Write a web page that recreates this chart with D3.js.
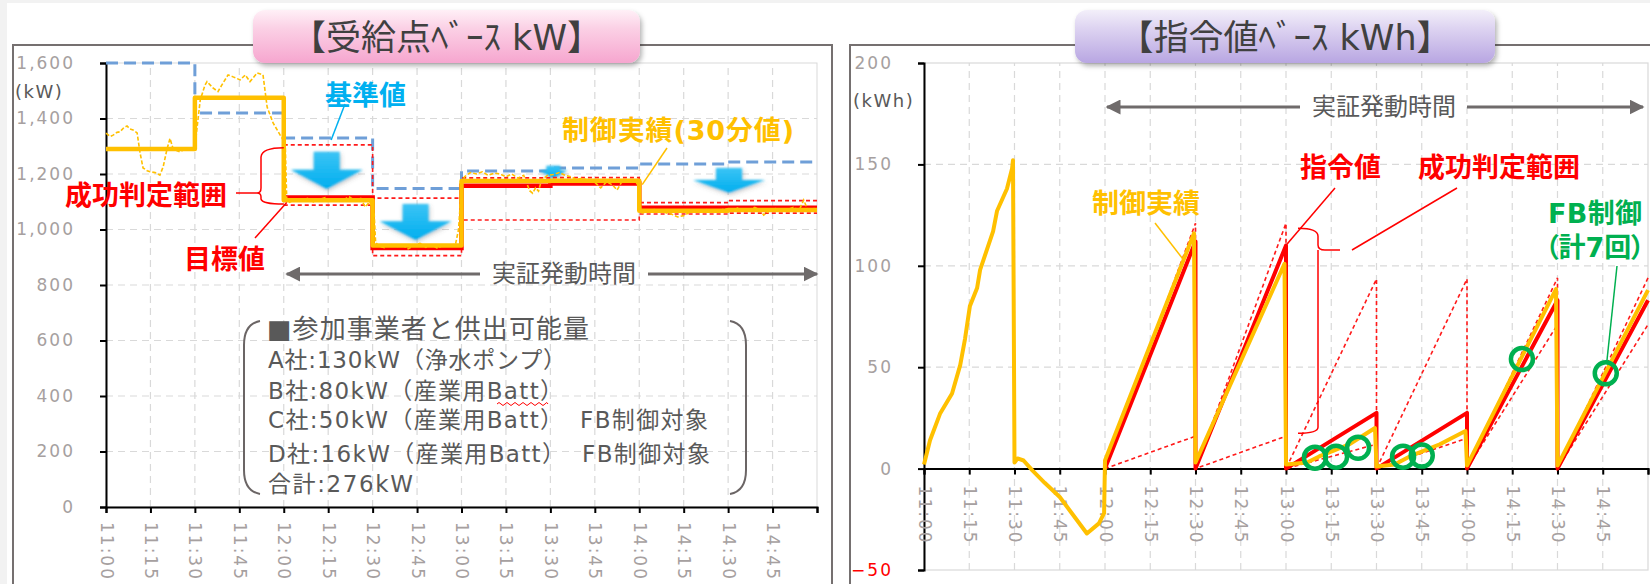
<!DOCTYPE html>
<html><head><meta charset="utf-8">
<script src="https://cdn.jsdelivr.net/npm/d3@7"></script>
<style>
html,body{margin:0;padding:0;background:#f2f2f2;}
svg{display:block;}
text{font-family:"DejaVu Sans","Noto Sans CJK JP",sans-serif;}
.tk text{font-family:"DejaVu Sans",sans-serif;font-size:17px;letter-spacing:2px;fill:#a6a0a0;}
</style></head><body>
<svg id="c" width="1650" height="584"></svg>
<script>
// ---------- data ----------
// time axis: minutes after 11:00
const timeTicks  = [0,15,30,45,60,75,90,105,120,135,150,165,180,195,210,225,240];
const timeLabels = ["11:00","11:15","11:30","11:45","12:00","12:15","12:30","12:45",
                    "13:00","13:15","13:30","13:45","14:00","14:15","14:30","14:45",""];
const kwTicks  = [0,200,400,600,800,1000,1200,1400,1600];
const kwhTicks = [-50,0,50,100,150,200];

// 30-minute blocks (start minute)
const blockStarts = [0,30,60,90,120,150,180,210];
const baseKW      = [1600,1420,1330,1148,1211,1222,1236,1243];   // 基準値
const actualKW30  = [1290,1475,1105,942,1175,1176,1068,1070];     // 制御実績(30分値)
const targetKW    = [null,null,1115,933,1158,1166,1078,1078];     // 目標値
const rangeHighKW = [null,null,1305,1113,1186,1187,1097,1104];    // 成功判定範囲 upper
const rangeLowKW  = [null,null,1088,906,1034,1034,1056,1059];     // 成功判定範囲 lower

// 1-minute actual load [minute, kW]
const actualKW1min = [
 [0,1347],[1.4,1335],[2.4,1340],[3.7,1350],[4.7,1352],[6.1,1368],[7.1,1373],[8.1,1362],[9.1,1359],[10.5,1348],
 [11.5,1276],[12.5,1222],[13.9,1212],[14.9,1208],[16.6,1205],[18.2,1196],[19.3,1226],[20.6,1290],[21.6,1328],
 [22.6,1293],[24,1284],[25,1280],[26.7,1290],[28.4,1287],[30,1298],[31.8,1466],[33.4,1520],[34.1,1533],[36.1,1510],
 [37.8,1497],[39.5,1528],[41.2,1557],[42.9,1550],[45.3,1539],[47,1557],[48.6,1533],[51,1564],[53,1557],[54.4,1441],
 [56.4,1384],[58.8,1340],[60.5,1311],[61,1110],
 [62,1098],[64,1110],[66,1104],[68,1112],[70,1100],[72,1108],[74,1115],[76,1102],[78,1110],[80,1106],[82,1118],
 [84,1105],[86,1112],[87.5,1081],[89,1100],[90.5,1060],[91,955],
 [92,940],[94,935],[96,948],[98,938],[100,945],[102,930],[104,942],[106,950],[108,936],[110,944],[112,932],
 [114,946],[116,940],[118,948],[119,1000],[120,1160],
 [121,1190],[123,1205],[125,1200],[127,1208],[129,1195],[131,1203],[133,1200],[135,1190],[137,1200],[139,1185],
 [141,1195],[143,1140],[144,1131],[145,1150],[146,1138],[147,1178],[149,1195],
 [151,1198],[153,1205],[155,1195],[157,1190],[159,1180],[161,1185],[163,1175],[165,1170],[167,1150],[169,1172],
 [171,1160],[172.5,1142],[174,1170],[176,1176],[178,1172],[180,1160],[180.5,1070],
 [181,1060],[183,1065],[185,1072],[187,1066],[189,1060],[191,1055],[193,1045],[195,1050],[197,1062],[199,1070],
 [201,1066],[203,1072],[205,1060],[207,1068],[209,1075],
 [211,1070],[213,1078],[215,1066],[217,1072],[219,1080],[221,1070],[222,1052],[224,1068],[226,1075],[228,1070],
 [230,1072],[232,1080],[234,1070],[235.5,1106],[237,1068],[239,1075],[240,1072]
];

// reduction arrows [centre minute, top kW, tip kW, large?]
const reductionArrows = [[74.5,1280,1146,1],[104.5,1092,962,1],[151,1230,1183,0],[210.3,1222,1132,1]];

// kWh view: blocks from 12:00
const kwhBlockStarts = [60,90,120,150,180,210];
const commandKWh     = [112,110,27.5,27.5,83,83];   // 指令値 at block end
const rangeHighKWh   = [121,121,93.5,93.5,94,94];
const rangeLowKWh    = [16,16,12,15,71,71];
// 制御実績 cumulative kWh [minute, kWh]
const actualKWh = [
 [0,2],[2,14],[5.3,27],[9.3,37],[12,51],[13.6,64],[15.2,80],[17.6,89],[18.6,98],[22.9,117],[24.2,127],
 [27.5,138],[29.2,148],[29.5,152],[30,3],[31,5],[33,4],[36,-1],[40,-7],[45,-14],[49,-22],[54,-32],[58,-27],
 [59.7,-22],[60,4],[89.5,116],[90,3],[119.5,101],[120,2],[127,3],[131,6],[136,9],[141,12],[149.5,20],
 [150,1],[156,2],[161,6],[166,9],[171,12],[179.5,18.5],[180,1.5],[209.5,88.5],[210,1.5],[240,88]
];
// FB control events [minute, kWh]
const fbMinutes = [129.6,136.6,143.9,158.8,165,198.2,226];
const fbKWh     = [5.4,5.9,10.3,5.9,6.4,54,47];

// ---------- setup ----------
const svg = d3.select("#c");
svg.append("rect").attr("x",7).attr("y",3).attr("width",1643).attr("height",581).attr("fill","#fff");
const defs = svg.append("defs");
function grad(id, stops){
  const g = defs.append("linearGradient").attr("id",id).attr("x1",0).attr("y1",0).attr("x2",0).attr("y2",1);
  stops.forEach(s=>g.append("stop").attr("offset",s[0]).attr("stop-color",s[1]));
}
grad("gPink",[[0,"#fff0f7"],[0.35,"#fbd0e5"],[1,"#f6a6cf"]]);
grad("gPurple",[[0,"#f3effa"],[0.35,"#ddd3f1"],[1,"#b8a6e2"]]);
grad("gArrow",[[0,"#3cc4f5"],[1,"#00aeef"]]);
const sh = defs.append("filter").attr("id","shadow").attr("x","-20%").attr("y","-20%").attr("width","140%").attr("height","160%");
sh.append("feDropShadow").attr("dx",2).attr("dy",3).attr("stdDeviation",2.5).attr("flood-color","#000").attr("flood-opacity",0.3);
const soft = defs.append("filter").attr("id","soft").attr("x","-20%").attr("y","-20%").attr("width","140%").attr("height","160%");
soft.append("feGaussianBlur").attr("in","SourceGraphic").attr("stdDeviation",0.8).attr("result","b");
soft.append("feDropShadow").attr("in","b").attr("dx",1).attr("dy",2).attr("stdDeviation",2).attr("flood-color","#555").attr("flood-opacity",0.35);
const mk = defs.append("marker").attr("id","ah").attr("viewBox","0 0 10 10").attr("refX",9).attr("refY",5)
  .attr("markerWidth",5).attr("markerHeight",5).attr("orient","auto-start-reverse").attr("markerUnits","strokeWidth");
mk.append("path").attr("d","M0,0 L10,5 L0,10 Z").attr("fill","#6f6b6b");

// panel frames
svg.append("rect").attr("x",13).attr("y",45).attr("width",819).attr("height",600).attr("fill","none").attr("stroke","#757070").attr("stroke-width",2);
svg.append("rect").attr("x",850).attr("y",45).attr("width",830).attr("height",600).attr("fill","none").attr("stroke","#757070").attr("stroke-width",2);

// scales
const xL = d3.scaleLinear().domain([0,240]).range([106,817]);
const yL = d3.scaleLinear().domain([0,1600]).range([507,63]);
const xR = d3.scaleLinear().domain([0,240]).range([924,1648]);
const yR = d3.scaleLinear().domain([-50,200]).range([570,63]);

function stepPoints(starts, vals){
  const pts=[];
  starts.forEach((s,i)=>{ if(vals[i]!=null){ pts.push([s,vals[i]]); pts.push([s+30,vals[i]]); } });
  return pts;
}
function sawPoints(starts, vals){
  const pts=[];
  starts.forEach((s,i)=>{ pts.push([s,0]); pts.push([s+30,vals[i]]); });
  return pts;
}
const line = (x,y)=>d3.line().x(d=>x(d[0])).y(d=>y(d[1]));
function lbl(g,x,y,t,c,size,wt,anchor,len){
  const el = g.append("text").attr("x",x).attr("y",y).attr("dominant-baseline","central")
    .attr("text-anchor",anchor||"start").style("font-size",size+"px").style("font-weight",wt||700).attr("fill",c).text(t);
  if(len) el.attr("textLength",len).attr("lengthAdjust","spacing");
  return el;
}

// ---------- left panel: kW ----------
const L = svg.append("g");
L.append("g").selectAll("line").data(kwTicks.filter(d=>d>0&&d<1600)).join("line")
  .attr("x1",xL(0)).attr("x2",xL(240)).attr("y1",d=>yL(d)).attr("y2",d=>yL(d))
  .attr("stroke","#d9d9d9").attr("stroke-width",1.2).attr("stroke-dasharray","7,5");
L.append("g").selectAll("line").data(timeTicks.filter(d=>d>0&&d<240)).join("line")
  .attr("x1",d=>xL(d)).attr("x2",d=>xL(d)).attr("y1",yL(0)).attr("y2",yL(1600))
  .attr("stroke","#d9d9d9").attr("stroke-width",1.2).attr("stroke-dasharray","7,5");
L.append("rect").attr("x",xL(0)).attr("y",yL(1600)).attr("width",xL(240)-xL(0)).attr("height",yL(0)-yL(1600))
  .attr("fill","none").attr("stroke","#d9d9d9").attr("stroke-width",1);
const axL = L.append("g").attr("class","tk").attr("transform",`translate(${xL(0)},0)`)
  .call(d3.axisLeft(yL).tickValues(kwTicks).tickFormat(d3.format(",")).tickSize(6).tickPadding(25));
const axB = L.append("g").attr("class","tk").attr("transform",`translate(0,${yL(0)})`)
  .call(d3.axisBottom(xL).tickValues(timeTicks).tickFormat((d,i)=>timeLabels[i]).tickSize(6));
axB.selectAll("text").attr("transform","rotate(90)").attr("x",15).attr("y",0).attr("dy","0.35em").style("text-anchor","start");
[axL,axB].forEach(a=>{a.selectAll("path.domain").attr("stroke","#000").attr("stroke-width",2);a.selectAll(".tick line").attr("stroke","#000").attr("stroke-width",2);});
L.append("text").attr("x",15).attr("y",91).attr("dominant-baseline","central")
  .style("font-size","18px").style("letter-spacing","1.5px").attr("fill","#595959").text("(kW)");

// base
L.append("path").attr("d",line(xL,yL)(stepPoints(blockStarts,baseKW))).attr("fill","none")
  .attr("stroke","#6f9fd8").attr("stroke-width",3).attr("stroke-dasharray","12,6");
// arrows
reductionArrows.forEach(a=>{
  const cx=xL(a[0]), y0=yL(a[1]), y2=yL(a[2]);
  const big=a[3]===1, sw=big?13:7, hw=big?36:14;
  const y1 = y0 + (y2-y0)*(big?0.48:0.35);
  L.append("path").attr("d",`M${cx-sw},${y0}L${cx+sw},${y0}L${cx+sw},${y1}L${cx+hw},${y1}L${cx},${y2}L${cx-hw},${y1}L${cx-sw},${y1}Z`)
    .attr("fill","url(#gArrow)").attr("filter","url(#soft)");
});
// success range
[rangeHighKW,rangeLowKW].forEach(v=>{
  L.append("path").attr("d",line(xL,yL)(stepPoints(blockStarts,v))).attr("fill","none")
    .attr("stroke","#ff1a1a").attr("stroke-width",1.6).attr("stroke-dasharray","4,3");
});
// target
L.append("path").attr("d",line(xL,yL)(stepPoints(blockStarts,targetKW))).attr("fill","none")
  .attr("stroke","#ff0000").attr("stroke-width",4.5);
// actual 30-min
L.append("path").attr("d",line(xL,yL)(stepPoints(blockStarts,actualKW30))).attr("fill","none")
  .attr("stroke","#ffc000").attr("stroke-width",4.5).attr("stroke-linejoin","round");
// actual 1-min
L.append("path").attr("d",line(xL,yL)(actualKW1min)).attr("fill","none")
  .attr("stroke","#ffc000").attr("stroke-width",1.6).attr("stroke-dasharray","4,2");

// annotations
lbl(L,325,95,"基準値","#00b0f0",27);
L.append("line").attr("x1",345).attr("y1",104).attr("x2",xL(76)).attr("y2",yL(baseKW[2])+2).attr("stroke","#00b0f0").attr("stroke-width",1.5);
lbl(L,65,195,"成功判定範囲","#ff0000",27);
L.append("line").attr("x1",236).attr("y1",193).attr("x2",257).attr("y2",193).attr("stroke","#ff0000").attr("stroke-width",1.5);
L.append("path").attr("d",`M${xL(60)},${yL(rangeHighKW[2])+3} Q262,${yL(rangeHighKW[2])+3} 261,157 L261,188 Q261,193 257,193 Q261,193 261,197 L261,199 Q262,${yL(rangeLowKW[2])-1} ${xL(60)},${yL(rangeLowKW[2])-1}`)
  .attr("fill","none").attr("stroke","#ff0000").attr("stroke-width",1.5);
lbl(L,184,259,"目標値","#ff0000",27);
L.append("line").attr("x1",255).attr("y1",238).attr("x2",xL(61)).attr("y2",yL(targetKW[2])+5).attr("stroke","#ff0000").attr("stroke-width",1.5);
lbl(L,562,130,"制御実績(30分値)","#ffc000",27,700,"start",232);
L.append("line").attr("x1",667).attr("y1",148).attr("x2",xL(181)).attr("y2",yL(actualKW30[5])+4).attr("stroke","#ffc000").attr("stroke-width",1.5);
const dL = L.append("g");
dL.append("line").attr("x1",480).attr("y1",274).attr("x2",xL(60)+3).attr("y2",274).attr("stroke","#6f6b6b").attr("stroke-width",3).attr("marker-end","url(#ah)");
dL.append("line").attr("x1",648).attr("y1",274).attr("x2",xL(240)).attr("y2",274).attr("stroke","#6f6b6b").attr("stroke-width",3).attr("marker-end","url(#ah)");
lbl(dL,564,274,"実証発動時間","#595959",24,400,"middle");

// participants box
const B = L.append("g");
B.append("path").attr("d","M260,321 Q244,324 244,345 L244,470 Q244,491 260,494").attr("fill","none").attr("stroke","#6b6565").attr("stroke-width",2);
B.append("path").attr("d","M730,321 Q746,324 746,345 L746,470 Q746,491 730,494").attr("fill","none").attr("stroke","#6b6565").attr("stroke-width",2);
lbl(B,267,329,"■参加事業者と供出可能量","#595959",26,400,"start",322);
lbl(B,268,360,"A社:130kW（浄水ポンプ）","#595959",23,400,"start",298);
lbl(B,268,391,"B社:80kW（産業用Batt）","#595959",23,400,"start",295);
lbl(B,268,420,"C社:50kW（産業用Batt）","#595959",23,400,"start",295);
lbl(B,268,454,"D社:16kW（産業用Batt）","#595959",23,400,"start",297);
lbl(B,268,484,"合計:276kW","#595959",23,400,"start",145);
lbl(B,580,420,"FB制御対象","#595959",23,400,"start",128);
lbl(B,582,454,"FB制御対象","#595959",23,400,"start",128);
B.append("path").attr("d","M497,404 q2,-3 4,0 t4,0 t4,0 t4,0 t4,0 t4,0 t4,0 t4,0 t4,0 t4,0 t4,0 t4,0 t3,0")
  .attr("fill","none").attr("stroke","#ff0000").attr("stroke-width",1);

// ---------- right panel: kWh ----------
const R = svg.append("g");
R.append("g").selectAll("line").data(kwhTicks.filter(d=>d!==0&&d!==200&&d!==-50)).join("line")
  .attr("x1",xR(0)).attr("x2",xR(240)).attr("y1",d=>yR(d)).attr("y2",d=>yR(d))
  .attr("stroke","#d9d9d9").attr("stroke-width",1.2).attr("stroke-dasharray","7,5");
R.append("g").selectAll("line").data(timeTicks.filter(d=>d>0&&d<240)).join("line")
  .attr("x1",d=>xR(d)).attr("x2",d=>xR(d)).attr("y1",yR(-50)).attr("y2",yR(200))
  .attr("stroke","#d9d9d9").attr("stroke-width",1.2).attr("stroke-dasharray","7,5");
R.append("rect").attr("x",xR(0)).attr("y",yR(200)).attr("width",xR(240)-xR(0)).attr("height",yR(-50)-yR(200))
  .attr("fill","none").attr("stroke","#d9d9d9").attr("stroke-width",1.2);
const axRL = R.append("g").attr("class","tk").attr("transform",`translate(${xR(0)},0)`)
  .call(d3.axisLeft(yR).tickValues(kwhTicks).tickSize(6).tickPadding(25));
axRL.selectAll(".tick text").filter(d=>d<0).style("fill","#ff0000");
const axRB = R.append("g").attr("class","tk").attr("transform",`translate(0,${yR(0)})`)
  .call(d3.axisBottom(xR).tickValues(timeTicks).tickFormat((d,i)=>timeLabels[i]).tickSize(6));
axRB.selectAll("text").attr("transform","rotate(90)").attr("x",17).attr("y",0).attr("dy","0.35em").style("text-anchor","start");
[axRL,axRB].forEach(a=>{a.selectAll("path.domain").attr("stroke","#000").attr("stroke-width",2);a.selectAll(".tick line").attr("stroke","#000").attr("stroke-width",2);});
R.append("text").attr("x",853).attr("y",100).attr("dominant-baseline","central")
  .style("font-size","18px").style("letter-spacing","1.5px").attr("fill","#595959").text("(kWh)");

// success range (kWh)
[rangeHighKWh,rangeLowKWh].forEach(v=>{
  R.append("path").attr("d",line(xR,yR)(sawPoints(kwhBlockStarts,v))).attr("fill","none")
    .attr("stroke","#ff1a1a").attr("stroke-width",1.6).attr("stroke-dasharray","4,3");
});
// command value
R.append("path").attr("d",line(xR,yR)(sawPoints(kwhBlockStarts,commandKWh))).attr("fill","none")
  .attr("stroke","#ff0000").attr("stroke-width",4).attr("stroke-linejoin","round");
// actual
R.append("path").attr("d",line(xR,yR)(actualKWh)).attr("fill","none")
  .attr("stroke","#ffc000").attr("stroke-width",4).attr("stroke-linejoin","round");
// FB events
R.append("g").selectAll("circle").data(fbMinutes).join("circle")
  .attr("cx",d=>xR(d)).attr("cy",(d,i)=>yR(fbKWh[i])).attr("r",11)
  .attr("fill","none").attr("stroke","#00b050").attr("stroke-width",4.5);

// annotations
const dR = R.append("g");
dR.append("line").attr("x1",1300).attr("y1",107).attr("x2",xR(60)+2).attr("y2",107).attr("stroke","#6f6b6b").attr("stroke-width",3).attr("marker-end","url(#ah)");
dR.append("line").attr("x1",1467).attr("y1",107).attr("x2",xR(240)-5).attr("y2",107).attr("stroke","#6f6b6b").attr("stroke-width",3).attr("marker-end","url(#ah)");
lbl(dR,1384,107,"実証発動時間","#595959",24,400,"middle");
lbl(R,1092,203,"制御実績","#ffc000",27);
R.append("line").attr("x1",1155).attr("y1",223).attr("x2",xR(86)).attr("y2",yR(103)).attr("stroke","#ffc000").attr("stroke-width",1.5);
lbl(R,1300,167,"指令値","#ff0000",27);
R.append("line").attr("x1",1335).attr("y1",188).attr("x2",xR(119)+2).attr("y2",yR(commandKWh[1])+1).attr("stroke","#ff0000").attr("stroke-width",1.5);
lbl(R,1418,167,"成功判定範囲","#ff0000",27);
R.append("line").attr("x1",1457).attr("y1",188).attr("x2",1352).attr("y2",250).attr("stroke","#ff0000").attr("stroke-width",1.5);
const bt=yR(rangeHighKWh[1])+5, bb=yR(rangeLowKWh[1])-3;
R.append("path").attr("d",`M1298,${bt} Q1318,${bt} 1318,${bt+8} L1318,245 Q1318,250 1325,250 L1340,250 M1318,250 L1318,${bb-6} Q1318,${bb} 1298,${bb}`)
  .attr("fill","none").attr("stroke","#ff0000").attr("stroke-width",1.5);
lbl(R,1548,213,"FB制御","#00b050",27,700,"start",94);
lbl(R,1545,247,"（計7回）","#00b050",27).style("font-feature-settings","'palt'");
R.append("line").attr("x1",1617).attr("y1",266).attr("x2",xR(fbMinutes[6])+1).attr("y2",yR(fbKWh[6])-11).attr("stroke","#00b050").attr("stroke-width",1.5);

// ---------- title boxes ----------
function title(x,w,fill,t){
  const g=svg.append("g");
  g.append("rect").attr("x",x).attr("y",10).attr("width",w).attr("height",53).attr("rx",12)
    .attr("fill",fill).attr("filter","url(#shadow)");
  g.append("text").attr("x",x+w/2).attr("y",38).attr("text-anchor","middle").attr("dominant-baseline","central")
    .style("font-size","35px").attr("fill","#404040").text(t);
}
title(253,387,"url(#gPink)","【受給点ﾍﾞｰｽ kW】");
title(1075,420,"url(#gPurple)","【指令値ﾍﾞｰｽ kWh】");
</script></body></html>
